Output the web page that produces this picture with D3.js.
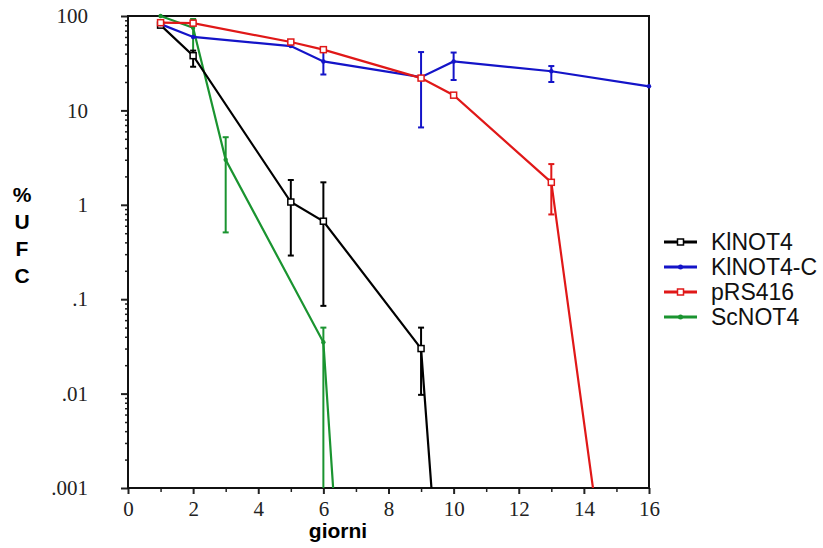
<!DOCTYPE html>
<html>
<head>
<meta charset="utf-8">
<script src="https://cdn.jsdelivr.net/npm/d3@7"></script>
<style>
  body { margin: 0; background: #fff; }
  .tick text { font-family: "Liberation Serif", serif; font-size: 21px; fill: #222; }
  .legend text { font-family: "Liberation Sans", Arial, sans-serif; font-size: 23px; fill: #111; }
  .title { font-family: "Liberation Sans", Arial, sans-serif; font-size: 21px; font-weight: bold; }
</style>
</head>
<body>
<svg id="chart" width="823" height="548"></svg>
<script>
// data (days, % UFC, error bar low / high)
var klDays = [1, 2, 5, 6, 9, 10];
var klUfc  = [80, 38, 1.07, 0.67, 0.030, 7e-7];
var klLo   = [null, 29, 0.29, 0.085, 0.0097, null];
var klHi   = [null, 43, 1.83, 1.73, 0.05, null];

var kcDays = [1, 2, 5, 6, 9, 10, 13, 16];
var kcUfc  = [82, 60, 48, 33, 22.5, 33, 26, 18];
var kcLo   = [null, null, null, 24, 6.6, 21, 20, null];
var kcHi   = [null, null, null, 43, 41.5, 41, 29.5, null];

var prDays = [1, 2, 5, 6, 9, 10, 13, 15];
var prUfc  = [85, 84, 53, 44, 22, 14.5, 1.73, 1.5e-5];
var prLo   = [null, null, null, null, null, null, 0.79, null];
var prHi   = [null, null, null, null, null, null, 2.7, null];

var scDays = [1, 2, 3, 6, 7];
var scUfc  = [100, 75, 3.0, 0.035, 2.5e-7];
var scLo   = [null, 40, 0.51, 1e-5, null];
var scHi   = [null, 93, 5.2, 0.05, null];

var seriesNames = ["KlNOT4", "KlNOT4-C", "pRS416", "ScNOT4"];
var seriesColors = ["#000000", "#1414c8", "#e01818", "#1a9430"];
var seriesMarks = ["square", "dot", "square", "dot"];

var yTickValues = [100, 10, 1, 0.1, 0.01, 0.001];
var yTickLabels = ["100", "10", "1", ".1", ".01", ".001"];
var xTickValues = [0, 2, 4, 6, 8, 10, 12, 14, 16];

var svg = d3.select("#chart");
var pL = 128, pR = 649, pT = 16, pB = 488;

var x = d3.scaleLinear().domain([0, 16]).range([pL, pR]);
var y = d3.scaleLog().domain([0.001, 100]).range([pB, pT]);

svg.append("defs").append("clipPath").attr("id", "plot")
  .append("rect")
  .attr("x", pL).attr("y", pT - 5)
  .attr("width", pR - pL + 4).attr("height", pB - pT + 5);

// minor log ticks
var yMinor = [];
[0.001, 0.01, 0.1, 1, 10].forEach(function(d) {
  d3.range(2, 10).forEach(function(k) { yMinor.push(d * k); });
});

svg.append("g")
  .attr("transform", "translate(" + pL + ",0)")
  .call(d3.axisLeft(y).tickValues(yMinor).tickSize(3).tickFormat(""))
  .call(function(g) { g.select(".domain").remove(); })
  .selectAll("line").attr("stroke", "#222").attr("stroke-width", 1.5);

var yAxis = svg.append("g")
  .attr("transform", "translate(" + pL + ",0)")
  .call(d3.axisLeft(y).tickValues(yTickValues).tickSize(7).tickPadding(36)
    .tickFormat(function(d, i) { return yTickLabels[i]; }));
yAxis.select(".domain").remove();
yAxis.selectAll("line").attr("stroke", "#222").attr("stroke-width", 2);
yAxis.selectAll("text").attr("x", -40);

svg.append("g")
  .attr("transform", "translate(0," + pB + ")")
  .call(d3.axisBottom(x).tickValues(d3.range(1, 16, 2)).tickSize(4).tickFormat(""))
  .call(function(g) { g.select(".domain").remove(); })
  .selectAll("line").attr("stroke", "#222").attr("stroke-width", 1.5);

var xAxis = svg.append("g")
  .attr("transform", "translate(0," + pB + ")")
  .call(d3.axisBottom(x).tickValues(xTickValues).tickSize(6).tickPadding(7)
    .tickFormat(d3.format("d")));
xAxis.select(".domain").remove();
xAxis.selectAll("line").attr("stroke", "#222").attr("stroke-width", 2);

// frame
svg.append("rect")
  .attr("x", pL).attr("y", pT)
  .attr("width", pR - pL).attr("height", pB - pT)
  .attr("fill", "none").attr("stroke", "#111").attr("stroke-width", 2);

var series = [
  [klDays, klUfc, klLo, klHi],
  [kcDays, kcUfc, kcLo, kcHi],
  [prDays, prUfc, prLo, prHi],
  [scDays, scUfc, scLo, scHi]
];

var plot = svg.append("g").attr("clip-path", "url(#plot)");
var line = d3.line()
  .x(function(d) { return x(d[0]); })
  .y(function(d) { return y(d[1]); });

var drawOrder = [3, 0, 1, 2];
drawOrder.forEach(function(si) {
  var s = series[si];
  var col = seriesColors[si];
  var pts = s[0].map(function(d, i) { return [d, s[1][i], s[2][i], s[3][i]]; });
  var g = plot.append("g");

  g.append("path").datum(pts)
    .attr("d", line)
    .attr("fill", "none").attr("stroke", col).attr("stroke-width", 2.2);

  var eb = pts.filter(function(p) { return p[2] != null; });
  g.selectAll(".eb").data(eb).enter().append("line")
    .attr("x1", function(p) { return x(p[0]); })
    .attr("x2", function(p) { return x(p[0]); })
    .attr("y1", function(p) { return y(p[2]); })
    .attr("y2", function(p) { return y(p[3]); })
    .attr("stroke", col).attr("stroke-width", 2);
  [2, 3].forEach(function(k) {
    g.selectAll(".cap" + k).data(eb).enter().append("line")
      .attr("x1", function(p) { return x(p[0]) - 3; })
      .attr("x2", function(p) { return x(p[0]) + 3; })
      .attr("y1", function(p) { return y(p[k]); })
      .attr("y2", function(p) { return y(p[k]); })
      .attr("stroke", col).attr("stroke-width", 2);
  });

  var vis = pts.filter(function(p) { return p[1] >= 0.001; });
  if (seriesMarks[si] === "square") {
    g.selectAll(".mk").data(vis).enter().append("rect")
      .attr("x", function(p) { return x(p[0]) - 3; })
      .attr("y", function(p) { return y(p[1]) - 3; })
      .attr("width", 6).attr("height", 6)
      .attr("fill", "#fff").attr("stroke", col).attr("stroke-width", 1.5);
  } else {
    g.selectAll(".mk").data(vis).enter().append("circle")
      .attr("cx", function(p) { return x(p[0]); })
      .attr("cy", function(p) { return y(p[1]); })
      .attr("r", 2.2).attr("fill", col);
  }
});

// axis titles
svg.append("text").attr("class", "title")
  .attr("x", 338).attr("y", 538).attr("text-anchor", "middle")
  .text("giorni");

["%", "U", "F", "C"].forEach(function(ch, i) {
  svg.append("text").attr("class", "title")
    .attr("x", 22).attr("y", 202 + i * 27).attr("text-anchor", "middle")
    .text(ch);
});

// legend
var legend = svg.append("g").attr("class", "legend");
seriesNames.forEach(function(name, i) {
  var ly = 242 + i * 25;
  var row = legend.append("g").attr("transform", "translate(0," + ly + ")");
  row.append("line").attr("x1", 664).attr("x2", 697).attr("y1", 0).attr("y2", 0)
    .attr("stroke", seriesColors[i]).attr("stroke-width", 3);
  if (seriesMarks[i] === "square") {
    row.append("rect").attr("x", 677.5).attr("y", -3).attr("width", 6).attr("height", 6)
      .attr("fill", "#fff").attr("stroke", seriesColors[i]).attr("stroke-width", 1.5);
  } else {
    row.append("circle").attr("cx", 680.5).attr("cy", 0).attr("r", 2.5)
      .attr("fill", seriesColors[i]);
  }
  row.append("text").attr("x", 711).attr("y", 8).text(name);
});
</script>
</body>
</html>
